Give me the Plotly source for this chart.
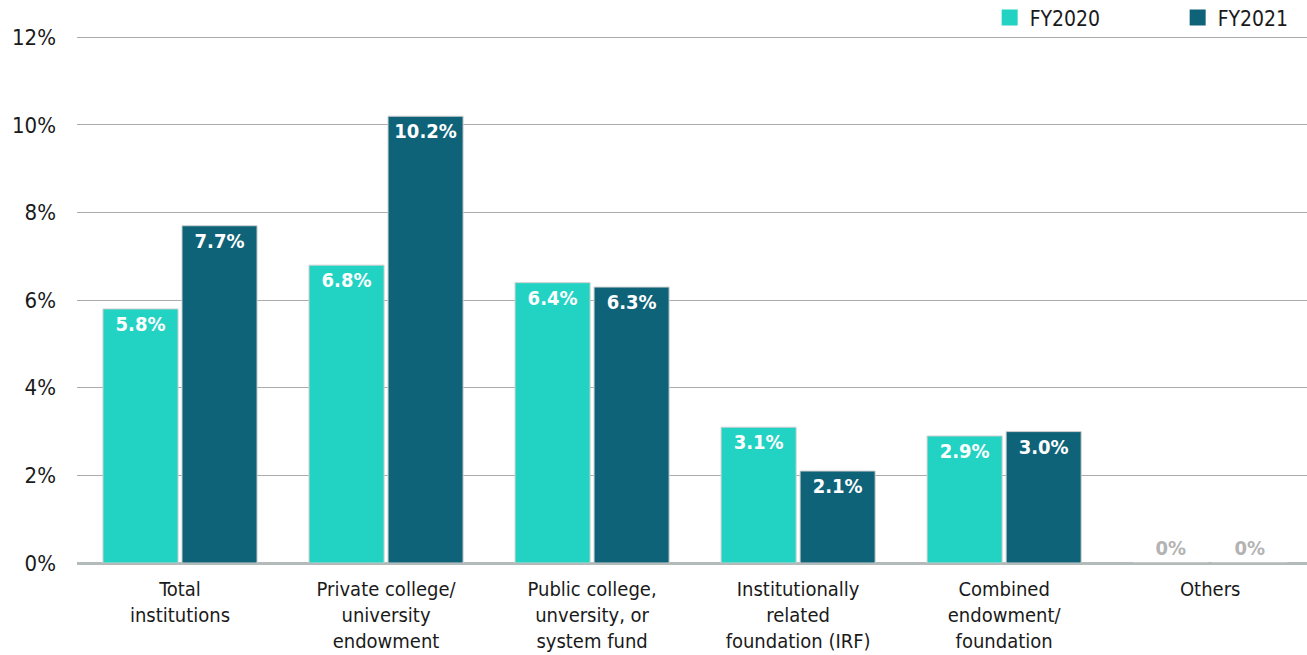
import plotly.graph_objects as go

categories = ["Total<br>institutions", "Private college/<br>university<br>endowment",
              "Public college,<br>unversity, or<br>system fund", "Institutionally<br>related<br>foundation (IRF)",
              "Combined<br>endowment/<br>foundation", "Others"]
fy2020 = [5.8, 6.8, 6.4, 3.1, 2.9, 0]
fy2021 = [7.7, 10.2, 6.3, 2.1, 3.0, 0]
y_ticks = [0, 2, 4, 6, 8, 10, 12]
y_tick_labels = ["0%", "2%", "4%", "6%", "8%", "10%", "12%"]

FONT = "DejaVu Sans Condensed, Liberation Sans Narrow, Arial Narrow, sans-serif"
C20 = "#22D3C4"
C21 = "#0E6378"

def pos(vals):
    return ["inside" if v > 0 else "outside" for v in vals]

def tcol(vals):
    return ["white" if v > 0 else "#B3B3B3" for v in vals]

fig = go.Figure()
for name, vals, col in [("FY2020", fy2020, C20), ("FY2021", fy2021, C21)]:
    fig.add_trace(go.Bar(
        name=name, x=categories, y=vals, showlegend=False,
        marker=dict(color=col, line=dict(color="#D0D0D0", width=1)),
        text=[f"{v:g}%" if v == 0 else f"{v:.1f}%" for v in vals],
        textposition=pos(vals), insidetextanchor="end", textangle=0,
        textfont=dict(family=FONT, size=20, color=tcol(vals), weight="bold"),
        cliponaxis=False,
    ))
    fig.add_trace(go.Scatter(
        name=name, x=[None], y=[None], mode="markers",
        marker=dict(symbol="square", size=17, color=col),
        showlegend=True,
    ))

fig.update_layout(
    width=1307, height=655,
    margin=dict(l=77, r=0, t=33, b=92, autoexpand=False),
    paper_bgcolor="white", plot_bgcolor="white",
    barmode="group", bargap=0.233, bargroupgap=0.05,
    font=dict(family=FONT, size=20, color="#1A1A1A"),
    legend=dict(orientation="h", x=0.742, xanchor="left", y=0.99, yanchor="bottom",
                font=dict(family=FONT, size=21, color="#1A1A1A"),
                entrywidth=143, itemwidth=30, bgcolor="rgba(0,0,0,0)"),
    showlegend=True,
)
fig.update_xaxes(range=[-0.5, 5.47], showgrid=False, showline=False, ticks="",
                 ticklabelstandoff=12,
                 tickfont=dict(family=FONT, size=20, color="#1A1A1A"))
fig.update_yaxes(range=[0, 12.1], tickmode="array", tickvals=y_ticks, ticktext=y_tick_labels,
                 showgrid=True, gridcolor="#ABABAB", gridwidth=1,
                 zeroline=True, zerolinecolor="#B3BABA", zerolinewidth=3,
                 ticklabelstandoff=20,
                 tickfont=dict(family=FONT, size=22, color="#1A1A1A"))

fig.write_html("out.html")
